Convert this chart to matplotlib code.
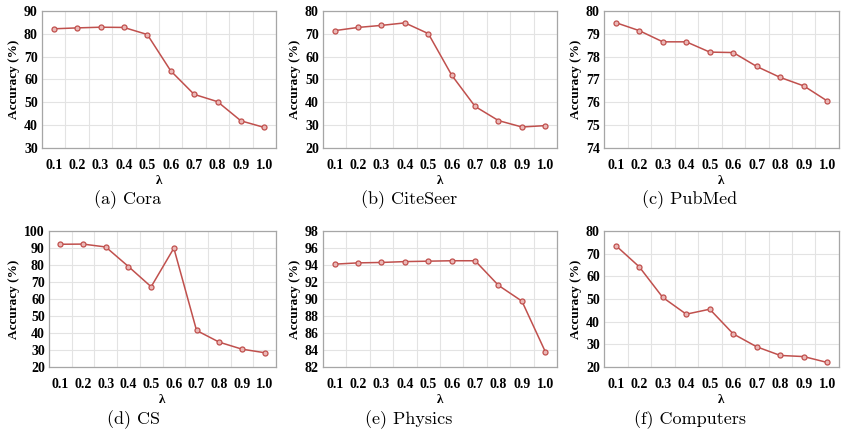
import matplotlib
matplotlib.use("Agg")
import matplotlib.pyplot as plt
import numpy as np

lambdas = ["0.1", "0.2", "0.3", "0.4", "0.5", "0.6", "0.7", "0.8", "0.9", "1.0"]

cora = [82.2, 82.6, 82.9, 82.8, 79.7, 63.8, 53.5, 50.3, 41.9, 39.0]
citeseer = [71.4, 72.8, 73.7, 74.8, 70.1, 51.9, 38.2, 32.0, 29.2, 29.8]
pubmed = [79.49, 79.14, 78.65, 78.65, 78.2, 78.18, 77.57, 77.09, 76.72, 76.06]
cs = [92.2, 92.3, 90.6, 79.1, 67.2, 89.9, 41.5, 34.6, 30.5, 28.4]
physics = [94.1, 94.25, 94.3, 94.4, 94.45, 94.5, 94.5, 91.6, 89.75, 83.8]
computers = [73.6, 64.2, 50.7, 43.3, 45.5, 34.6, 28.9, 25.1, 24.6, 22.0]

captions = ["(a) Cora", "(b) CiteSeer", "(c) PubMed",
            "(d) CS", "(e) Physics", "(f) Computers"]
series = [cora, citeseer, pubmed, cs, physics, computers]
yranges = [(30, 90, 10), (20, 80, 10), (74, 80, 1),
           (20, 100, 10), (82, 98, 2), (20, 80, 10)]

W, H = 845, 436
# axes boxes in pixels: left, top, right, bottom
boxes = [(42, 11, 276, 148), (323, 11, 557, 148), (604, 11, 839, 148),
         (49, 231, 276, 367), (323, 231, 557, 367), (604, 231, 839, 367)]
# caption centres in pixels
cap_pos = [(127.5, 200), (409, 200), (690, 200),
           (134, 420), (409, 420), (690, 420)]

fig = plt.figure(figsize=(W / 100, H / 100), dpi=100)
serif = ["Liberation Serif", "DejaVu Serif"]
red = "#C0504D"

for vals, cap, (lo, hi, step), (l, t, r, b), (cx, cy) in zip(series, captions, yranges, boxes, cap_pos):
    ax = fig.add_axes([l / W, 1 - b / H, (r - l) / W, (b - t) / H])
    x = np.arange(len(vals))
    ax.plot(x, vals, color=red, lw=1.1, marker="o", ms=3.6,
            mfc="#EBB8B7", mec=red, mew=0.9, zorder=3)
    ax.set_xlim(-0.5, len(vals) - 0.5)
    ax.set_ylim(lo, hi)
    ax.set_yticks(np.arange(lo, hi + step / 2, step))
    ax.set_xticks(x)
    ax.set_xticklabels(lambdas)
    ax.set_xticks(np.arange(-0.5, len(vals)), minor=True)
    ax.grid(False)
    ax.grid(True, which="minor", axis="x", color="#E3E3E3", lw=0.8)
    ax.grid(True, which="major", axis="y", color="#E3E3E3", lw=0.8)
    ax.set_axisbelow(True)
    ax.tick_params(which="both", length=0)
    ax.tick_params(axis="x", pad=8)
    ax.tick_params(axis="y", pad=3)
    for lab in ax.get_xticklabels() + ax.get_yticklabels():
        lab.set_fontfamily(serif)
        lab.set_fontweight("bold")
        lab.set_fontsize(10)
    for sp in ax.spines.values():
        sp.set_color("#A6A6A6")
        sp.set_linewidth(0.9)
    ax.set_ylabel("Accuracy (%)", family=serif, fontweight="bold", fontsize=9.5, labelpad=3)
    ax.set_xlabel("λ", family=serif, fontweight="bold", fontsize=9.5, labelpad=2)
    fig.text(cx / W, 1 - cy / H, cap, family=["cmr10", "DejaVu Serif"],
             fontsize=13, ha="center", va="center")

fig.savefig("out.png", dpi=100)
